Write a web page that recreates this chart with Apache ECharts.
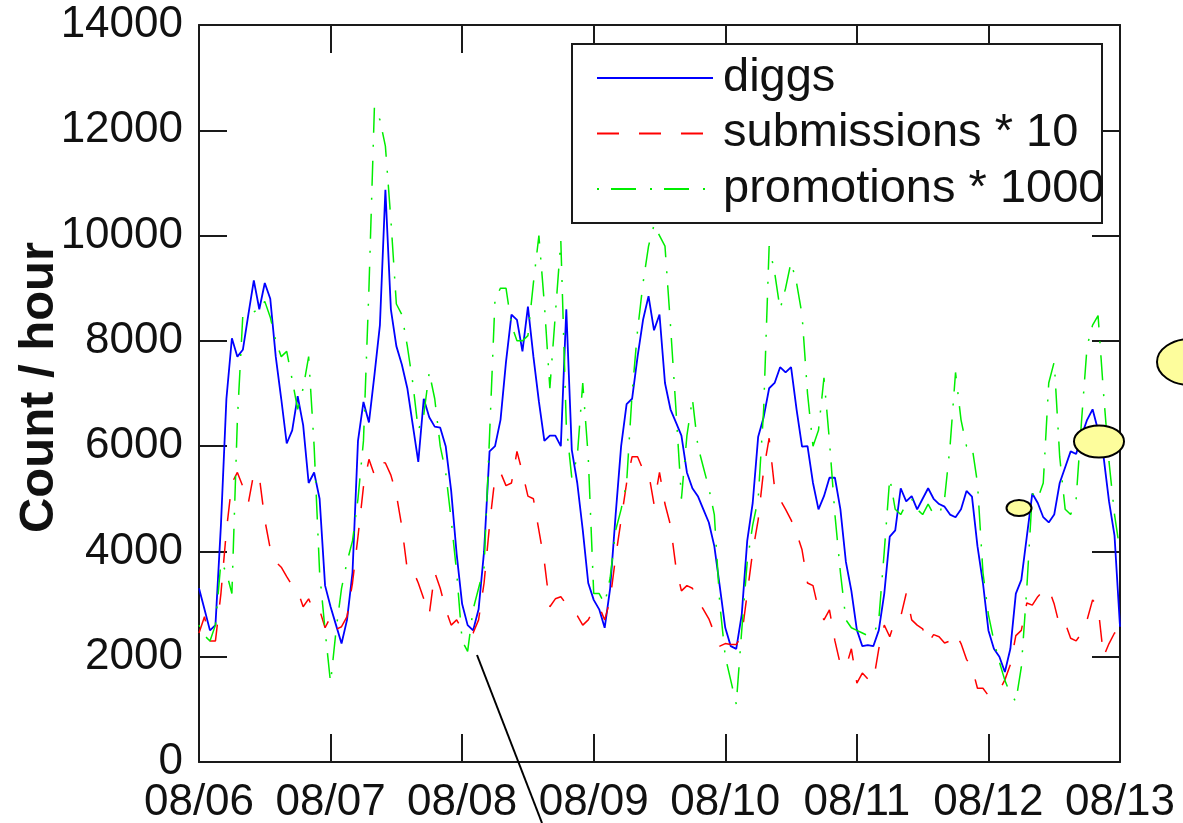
<!DOCTYPE html>
<html>
<head>
<meta charset="utf-8">
<script src="https://cdn.jsdelivr.net/npm/echarts@6/dist/echarts.min.js"></script>
<style>
  html, body { margin: 0; padding: 0; background: #ffffff; }
  #chart { width: 1183px; height: 823px; }
</style>
</head>
<body>
<div id="chart"></div>
<script>
// Day boundaries on the time axis (one tick every 24 hours)
const dayLabels = ['08/06', '08/07', '08/08', '08/09', '08/10', '08/11', '08/12', '08/13'];

// Hourly counts, hour 0 = start of 08/06
const diggs = [
  3300, 2900, 2500, 2600, 4500, 6900, 8050, 7700, 7830, 8500,
  9150, 8600, 9100, 8800, 7700, 6900, 6050, 6300, 6950, 6400,
  5300, 5500, 5000, 3350, 2950, 2600, 2250, 2700, 3600, 6100,
  6840, 6450, 7350, 8300, 10870, 8600, 7900, 7550, 7100, 6400,
  5700, 6900, 6550, 6370, 6350, 6000, 5150, 3950, 3000, 2600,
  2500, 2900, 4000, 5900, 6000, 6500, 7600, 8500, 8400, 7800,
  8650, 7700, 6850, 6100, 6200, 6200, 6000, 8600, 5930, 5300,
  4410, 3400, 3080, 2900, 2550, 3300, 4700, 6000, 6800, 6900,
  7700, 8400, 8850, 8200, 8500, 7200, 6700, 6450, 6200, 5500,
  5200, 5050, 4800, 4550, 4100, 3330, 2550, 2200, 2150, 2800,
  4200, 4920, 6180, 6550, 7100, 7200, 7500, 7400, 7500, 6700,
  5990, 6000, 5300, 4800, 5050, 5400, 5400, 4800, 3800, 3250,
  2510, 2200, 2220, 2200, 2500, 3200, 4280, 4400, 5200, 4950,
  5050, 4800, 5000, 5200, 5000, 4900, 4850, 4700, 4650, 4800,
  5150, 5040, 4100, 3400, 2500, 2150, 2000, 1710, 2150, 3200,
  3460, 4280, 5100, 4920, 4650, 4550, 4700, 5300, 5600, 5900,
  5850, 6200, 6500, 6700, 6300, 5800, 4950, 4300, 2570
];

// Story submissions per hour, scaled by 10
const submissions10 = [
  2450, 2760, 2300, 2300, 3200, 4400, 5300, 5500, 5230, 4920,
  5490, 5420, 4600, 4050, 3800, 3700, 3520, 3350, 3250, 2950,
  3100, 2850, 2890, 2550, 2760, 2520, 2570, 2760, 3400, 4280,
  5230, 5750, 5450, 5700, 5680, 5450, 5080, 4470, 3650, 3650,
  3400, 3100, 2800, 3600, 3300, 2900, 2600, 2700, 2520, 2420,
  2450, 2700, 3400, 4500, 5420, 5500, 5250, 5300, 5900, 5500,
  5050, 5000, 4400, 3800, 2950, 3100, 3140, 3000, 2880, 2780,
  2600, 2700, 2900, 2950, 2700, 3080, 3900, 4600, 5300, 5800,
  5800, 5550, 5500, 4900, 5500, 4900, 4500, 3700, 3250, 3350,
  3300, 3080, 2900, 2720, 2450, 2200, 2250, 2230, 2230, 2400,
  3200, 4000, 4600, 5550, 6150, 5200, 4980, 4800, 4600, 4350,
  4030, 3400, 3350, 2900, 2700, 2890, 2300, 1850, 1800, 2150,
  1500, 1690, 1580, 1520, 2150, 2600, 2380, 2700, 2760, 3200,
  2700, 2600, 2530, 2260, 2420, 2380, 2260, 2300, 2450, 2250,
  1950, 1800, 1400, 1400, 1260, 1300, 1360, 1560, 1850, 2400,
  2500, 3020, 2980, 3140, 3250, 3300, 3000, 2580, 2640, 2350,
  2300, 2450, 2700, 3080, 2950, 2000, 2250, 2450, 2500
];

// Front-page promotions per hour, scaled by 1000
const promotions1000 = [
  2600, 2400, 2300, 2600, 3800, 3600, 3200, 6500, 8500, 8500,
  8550, 8600, 8750, 8450, 8000, 7700, 7800, 7260, 6700, 7100,
  7700, 6000, 3600, 2500, 1500, 2500, 3300, 3800, 4200, 5000,
  6100, 9000, 12450, 12200, 11700, 10300, 8700, 8500, 7900, 7200,
  6300, 6600, 7400, 6900, 6000, 5500, 4600, 3600, 2300, 2100,
  2900, 3300, 3700, 6200, 8800, 9000, 9000, 8300, 8000, 8000,
  8100, 9100, 10000, 8700, 7100, 8500, 9900, 6400, 5400, 5800,
  7200, 5800, 3200, 3200, 3000, 3500, 4400, 4800, 5300, 7000,
  8200, 9100, 9800, 10200, 10000, 9800, 8300, 6700, 5000, 6200,
  6900, 6000, 5600, 5200, 4700, 3000, 2000, 1550, 1100, 2500,
  3800, 4500, 5000, 6700, 9800, 9300, 8600, 9000, 9500, 9100,
  8500, 7000, 6000, 6300, 7300, 6100, 4700, 3600, 2700, 2550,
  2500, 2450, 2400, 2400, 2700, 4000, 5400, 4800, 4700, 4900,
  5000, 4800, 4700, 4900, 4700, 4700, 5000, 6000, 7400, 6500,
  6000, 6000, 5300, 3600, 2800, 2300, 1900, 1550, 1300, 1150,
  1800, 3300, 5100, 5000, 5300, 7200, 7600, 5800, 4800, 4700,
  5000, 6500, 7900, 8300, 8480, 7000, 5700, 4700, 4000
];

const seriesNames = ['diggs', 'submissions * 10', 'promotions * 1000'];

const FONT = "'Liberation Sans', Arial, Helvetica, sans-serif";
const INK = '#1a1a1a';

const withHours = arr => arr.map((v, h) => [h, v]);

// frame sides stay at their own edge instead of snapping to zero
const frameLine = { show: true, onZero: false, lineStyle: { color: INK, width: 2 } };
const innerTick = { show: true, inside: true, length: 28, lineStyle: { color: INK, width: 2 } };

const chart = echarts.init(document.getElementById('chart'), null, { renderer: 'canvas' });

chart.setOption({
  animation: false,
  backgroundColor: '#ffffff',
  grid: { left: 199, right: 63, top: 25, bottom: 61, containLabel: false, outerBoundsMode: 'none' },
  xAxis: [
    {
      type: 'value', position: 'bottom', min: 0, max: 168, interval: 24,
      axisLine: frameLine, axisTick: innerTick, splitLine: { show: false },
      axisLabel: {
        formatter: v => dayLabels[Math.round(v / 24)],
        fontSize: 44, fontFamily: FONT, color: '#111', margin: 19,
        showMinLabel: true, showMaxLabel: true
      }
    },
    {
      type: 'value', position: 'top', min: 0, max: 168, interval: 24,
      axisLine: frameLine, axisTick: innerTick, splitLine: { show: false },
      axisLabel: { show: false }
    }
  ],
  yAxis: [
    {
      type: 'value', position: 'left', min: 0, max: 14000, interval: 2000,
      axisLine: frameLine, axisTick: innerTick, splitLine: { show: false },
      axisLabel: {
        formatter: v => String(v),
        fontSize: 44, fontFamily: FONT, color: '#111', margin: 16,
        showMinLabel: true, showMaxLabel: true
      },
      name: 'Count / hour', nameLocation: 'middle', nameGap: 135, nameMoveOverlap: false,
      nameTextStyle: { fontSize: 49, fontWeight: 'bold', fontFamily: FONT, color: '#111', padding: [0, 0, 0, 12] }
    },
    {
      type: 'value', position: 'right', min: 0, max: 14000, interval: 2000,
      axisLine: frameLine, axisTick: innerTick, splitLine: { show: false },
      axisLabel: { show: false }
    }
  ],
  legend: {
    orient: 'vertical', left: 572, top: 44,
    padding: [10, 0, 10, 24],
    itemWidth: 116, itemHeight: 14, itemGap: 7.5,
    selectedMode: false,
    backgroundColor: 'transparent',
    itemStyle: { color: 'transparent', borderColor: 'transparent', borderWidth: 0 },
    textStyle: { fontSize: 47, lineHeight: 48, fontFamily: FONT, color: '#111', padding: [0, 0, 0, 5] },
    data: seriesNames
  },
  graphic: [
    // legend frame
    { type: 'rect', z: 3, shape: { x: 572, y: 44, width: 530, height: 179 },
      style: { fill: '#ffffff', stroke: INK, lineWidth: 2 } },
    // annotation pointer and highlight ellipses
    { type: 'line', z: 10, shape: { x1: 477, y1: 655, x2: 542, y2: 823 },
      style: { stroke: '#000', lineWidth: 2 } },
    { type: 'ellipse', z: 10, shape: { cx: 1019, cy: 508, rx: 12.5, ry: 8 },
      style: { fill: '#fdfd9c', stroke: '#000', lineWidth: 2 } },
    { type: 'ellipse', z: 10, shape: { cx: 1099, cy: 441.5, rx: 25, ry: 16 },
      style: { fill: '#fdfd9c', stroke: '#000', lineWidth: 2 } },
    { type: 'ellipse', z: 10, shape: { cx: 1190, cy: 362, rx: 33, ry: 23 },
      style: { fill: '#fdfd9c', stroke: '#000', lineWidth: 2 } }
  ],
  series: [
    {
      name: seriesNames[0], type: 'line', symbol: 'none', showSymbol: false,
      data: withHours(diggs), z: 2,
      lineStyle: { color: '#0000ff', width: 1.8 }, itemStyle: { color: '#0000ff' }
    },
    {
      name: seriesNames[1], type: 'line', symbol: 'none', showSymbol: false,
      data: withHours(submissions10), z: 2,
      lineStyle: { color: '#ff0000', width: 1.5, type: [22, 20], cap: 'butt' }, itemStyle: { color: '#ff0000' }
    },
    {
      name: seriesNames[2], type: 'line', symbol: 'none', showSymbol: false,
      data: withHours(promotions1000), z: 2,
      lineStyle: { color: '#00ee00', width: 1.5, type: [2, 12, 25, 14], cap: 'butt' }, itemStyle: { color: '#00ee00' }
    }
  ]
});
</script>
</body>
</html>
